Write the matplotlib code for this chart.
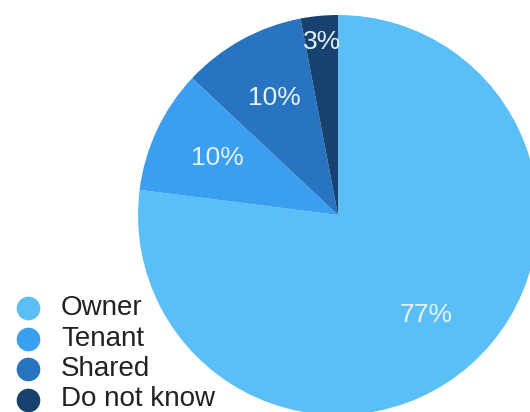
import numpy as np
import matplotlib.pyplot as plt

plt.rcParams['font.family'] = ['Liberation Sans', 'DejaVu Sans']

# Data
labels = ['Owner', 'Tenant', 'Shared', 'Do not know']
shares = [77, 10, 10, 3]
colors = ['#5bbff7', '#3a9ff0', '#2874c0', '#17416f']

W, H = 530, 412
fig = plt.figure(figsize=(W / 100, H / 100), dpi=100)
ax = fig.add_axes([0, 0, 1, 1])

center = (338, H - 215)
radius = 200
wedges, _, autotexts = ax.pie(shares, colors=colors, startangle=90, counterclock=False,
                              center=center, radius=radius, autopct='%d%%',
                              pctdistance=0.665,
                              textprops=dict(color='#e6f3ff', fontsize=19),
                              wedgeprops=dict(linewidth=0))

# small slice label sits further out
w = wedges[3]
mid = np.deg2rad((w.theta1 + w.theta2) / 2)
autotexts[3].set_position((center[0] + 0.87 * radius * np.cos(mid),
                           center[1] + 0.87 * radius * np.sin(mid)))

# legend drawn by hand, top-left ordering
for i, (lab, col) in enumerate(zip(labels, colors)):
    y = H - (308 + 30.5 * i)
    ax.scatter([28], [y], s=290, color=col, linewidths=0, clip_on=False, zorder=3)
    ax.text(61, y, lab, va='center', ha='left', fontsize=20, color='#222222')

ax.set_xlim(0, W)
ax.set_ylim(0, H)
ax.set_aspect('equal')
ax.axis('off')

fig.savefig('out.png', dpi=100)
